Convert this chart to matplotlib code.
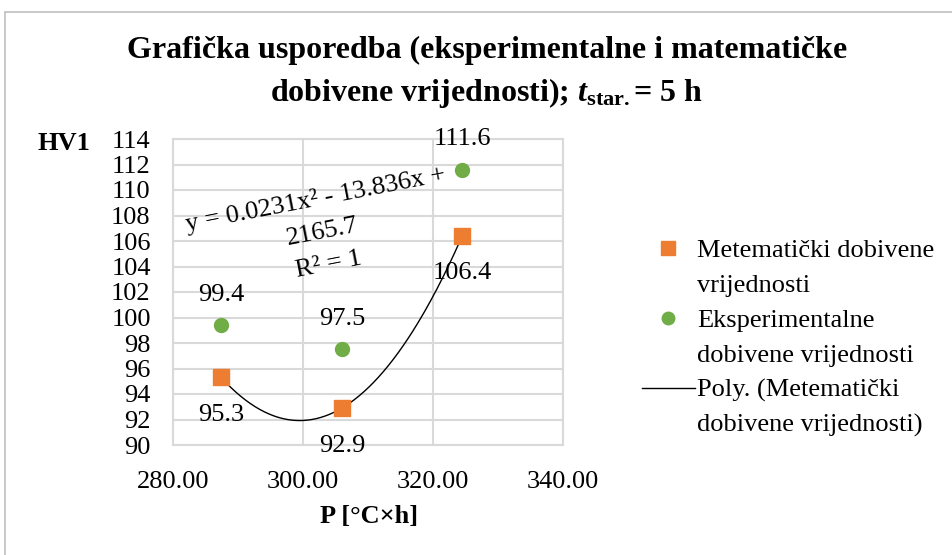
import numpy as np
import matplotlib
matplotlib.use("Agg")
import matplotlib.pyplot as plt
from matplotlib.lines import Line2D
from matplotlib.patches import Rectangle

# data
p_vals = [287.4, 306.0, 324.5]
hv_math = [95.3, 92.9, 106.4]
hv_exp = [99.4, 97.5, 111.6]
y_ticks = list(range(90, 115, 2))
x_ticks = [280, 300, 320, 340]

orange = "#ED7D31"
green = "#70AD47"
gridc = "#D9D9D9"
fs = 19

plt.rcParams["font.family"] = ["Liberation Serif", "DejaVu Serif"]
plt.rcParams["mathtext.fontset"] = "custom"
plt.rcParams["mathtext.rm"] = "Liberation Serif:bold"
plt.rcParams["mathtext.it"] = "Liberation Serif:italic:bold"

fig = plt.figure(figsize=(9.52, 5.55), dpi=100)
ax = fig.add_axes([173 / 952, 1 - 445 / 555, 390 / 952, 306 / 555])

# outer chart border
fig.patches.append(Rectangle((5 / 952, -0.05), 1.0, 1 - 12 / 555 + 0.05,
                             transform=fig.transFigure, fill=False,
                             edgecolor="#BFBFBF", linewidth=1.2))

# polynomial trendline (order 2) through the mathematical values
coef = np.polyfit(p_vals, hv_math, 2)
xs = np.linspace(p_vals[0], p_vals[-1], 200)
ax.plot(xs, np.polyval(coef, xs), color="black", linewidth=1, zorder=2)

ax.plot(p_vals, hv_math, "s", color=orange, markersize=11.5, zorder=3)
ax.plot(p_vals, hv_exp, "o", color=green, markersize=10, zorder=3)

for x, y in zip(p_vals, hv_math):
    ax.annotate(f"{y}", (x, y), xytext=(0, -27), textcoords="offset points",
                ha="center", va="center", fontsize=fs)
for x, y in zip(p_vals, hv_exp):
    ax.annotate(f"{y}", (x, y), xytext=(0, 22), textcoords="offset points",
                ha="center", va="center", fontsize=fs)

ax.text(302.9, 106.7, "y = 0.0231x² - 13.836x +\n2165.7\nR² = 1",
        rotation=11, rotation_mode="anchor", ha="center", va="center",
        multialignment="center", fontsize=fs, linespacing=1.65, zorder=4)

ax.set_xlim(280, 340)
ax.set_ylim(90, 114)
ax.set_xticks(x_ticks)
ax.set_xticklabels([f"{v:.2f}" for v in x_ticks])
ax.set_yticks(y_ticks)
ax.tick_params(length=0, labelsize=fs)
ax.tick_params(axis="x", pad=19)
ax.tick_params(axis="y", pad=16)
ax.grid(True, color=gridc, linewidth=1.5)
ax.set_axisbelow(True)
for s in ax.spines.values():
    s.set_color(gridc)
    s.set_linewidth(1.5)

fig.text(37 / 952, 1 - 143 / 555, "HV1", fontsize=fs, fontweight="bold",
         ha="left", va="center")
fig.text(369 / 952, 1 - 517 / 555, "P [°C×h]", fontsize=fs, fontweight="bold",
         ha="center", va="center")

fig.text(487 / 952, 1 - 73 / 555,
         "Grafička usporedba (eksperimentalne i matematičke\n"
         "dobivene vrijednosti); $t_{\\mathrm{star.}}$= 5 h",
         fontsize=23, fontweight="bold", ha="center", va="center",
         linespacing=1.45)

# legend: one row per text line, marker next to the first line of each entry
blank = Line2D([], [], linestyle="none")
handles = [Line2D([], [], marker="s", color=orange, linestyle="none", markersize=10), blank,
           Line2D([], [], marker="o", color=green, linestyle="none", markersize=9), blank,
           Line2D([], [], color="black", linewidth=1), blank]
labels = ["Metematički dobivene", "vrijednosti",
          "Eksperimentalne", "dobivene vrijednosti",
          "Poly. (Metematički", "dobivene vrijednosti)"]
fig.legend(handles, labels, loc="upper left",
           bbox_to_anchor=(642 / 952, 1 - 239 / 555),
           frameon=False, fontsize=fs, handlelength=2.0, handletextpad=0.1,
           labelspacing=0.43, borderpad=0, borderaxespad=0)

fig.savefig("out.png", dpi=100)
